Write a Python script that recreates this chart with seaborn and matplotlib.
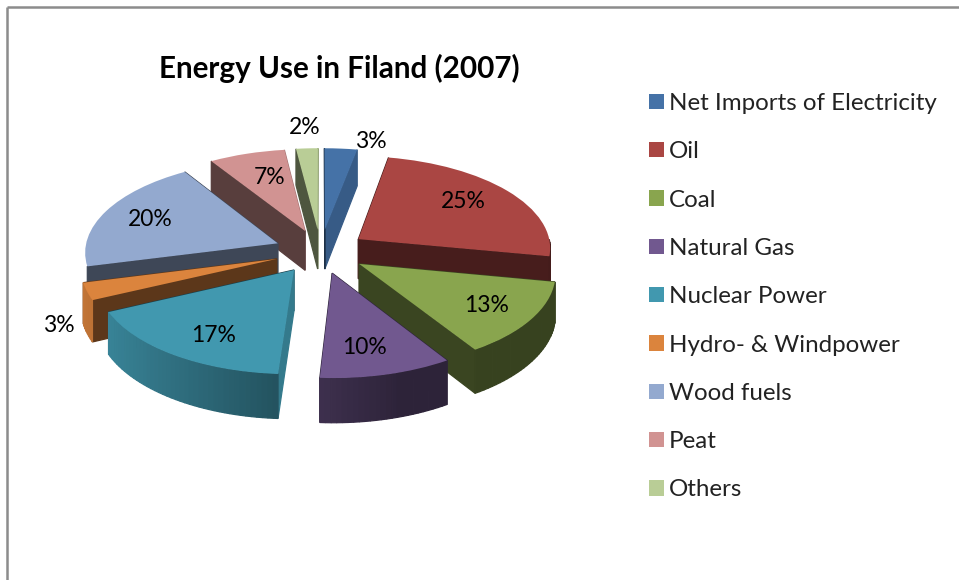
import numpy as np
import matplotlib
matplotlib.use("Agg")
import matplotlib.pyplot as plt
import matplotlib.transforms as mtransforms
import seaborn as sns

# --- DATA ---
CATEGORIES = ["Net Imports of Electricity", "Oil", "Coal", "Natural Gas", "Nuclear Power",
              "Hydro- & Windpower", "Wood fuels", "Peat", "Others"]
SHARES = [3, 25, 13, 10, 17, 3, 20, 7, 2]
COLOURS = ["#4572A7", "#AA4643", "#89A54E", "#71588F", "#4198AF",
           "#DB843D", "#93A9CF", "#D19392", "#B9CD96"]

# label centres in figure pixels (Excel "best fit" placement)
LABEL_POS = [(371, 141), (463, 202), (487, 306), (364, 347), (214, 335),
             (59, 325), (150, 219), (270, 177), (305, 128)]

# --- PROJECTION OF THE PIE PLANE ONTO THE PAGE ---
CX, CY = 320.5, 251.4
RX, RY = 193, 92
PERSPECTIVE = 0.085
THICKNESS = 40
EXPLODE = 0.24


def project(x, y, z=0.0):
    s = 1 / (1 + PERSPECTIVE * y)
    return CX + RX * x * s, CY - (RY * y - THICKNESS * z) * s


class PiePlane(mtransforms.Transform):
    input_dims = 2
    output_dims = 2

    def transform_non_affine(self, values):
        px, py = project(values[:, 0], values[:, 1])
        return np.column_stack([px, py])


def fill_side(ax, x, y, colour, zorder):
    # side wall hanging below a line on the top face
    px, py = project(x, y)
    qx, qy = project(x, y, 1.0)
    ax.fill(np.r_[px, qx[::-1]], np.r_[py, qy[::-1]], color=colour, lw=0.9, zorder=zorder)


def shaded(colour, factor):
    return tuple(c * factor for c in matplotlib.colors.to_rgb(colour))


sns.set_theme(style="white")
plt.rcParams["font.family"] = ["Lato", "DejaVu Sans"]
palette = sns.color_palette(COLOURS)

fig = plt.figure(figsize=(9.59, 5.8), dpi=100)
ax = fig.add_axes([0, 0, 1, 1])

wedges, _, pct_texts = ax.pie(SHARES, labels=CATEGORIES, labeldistance=None, colors=palette,
                              explode=[EXPLODE] * len(SHARES), startangle=90, counterclock=False,
                              autopct="%.0f%%", wedgeprops={"linewidth": 0})

plane = PiePlane() + ax.transData
order = np.argsort([-w.center[1] for w in wedges])

for rank, i in enumerate(order):
    wedge = wedges[i]
    wedge.set_transform(plane)
    wedge.set_zorder(1)
    cx, cy = wedge.center
    z = 0.1 + rank * 0.05

    # cut faces along the two radii
    for theta, normal in ((wedge.theta1, wedge.theta1 - 90), (wedge.theta2, wedge.theta2 + 90)):
        t = np.radians(theta)
        nx, ny = np.cos(np.radians(normal)), np.sin(np.radians(normal))
        factor = 0.8 if abs(ny) < 0.4 and nx > 0 else 0.42
        fill_side(ax, np.array([cx, cx + np.cos(t)]), np.array([cy, cy + np.sin(t)]),
                  shaded(palette[i], factor), z)

    # rim, split up so the shade can run along it; the back half can't be seen
    steps = np.radians(np.arange(wedge.theta1, wedge.theta2 + 1.5, 1.5).clip(max=wedge.theta2))
    for a, b in zip(steps[:-1], steps[1:]):
        mid = (a + b) / 2
        # the far left end is side-on in the reference, no rim shows there either
        if np.sin(mid) > 0 or (np.cos(mid) < 0 and np.sin(mid) > -0.25):
            continue
        factor = np.clip(0.52 - 0.38 * np.cos(mid), 0.4, 1.0)
        fill_side(ax, cx + np.cos([a, b]), cy + np.sin([a, b]),
                  shaded(palette[i], factor), z + 0.01)

for text, pos in zip(pct_texts, LABEL_POS):
    text.set_position(pos)
    text.set_fontsize(16.5)
    text.set_color("black")
    text.set_ha("center")
    text.set_va("center")
    text.set_zorder(3)

ax.text(339, 68, "Energy Use in Filand (2007)", fontsize=21.3, fontweight="bold",
        color="black", ha="center", va="center")

ax.legend(loc="upper left", bbox_to_anchor=(649, 93), bbox_transform=ax.transData,
          frameon=False, fontsize=17.4, labelspacing=1.13, handlelength=0.6, handleheight=0.6,
          handletextpad=0.22, borderpad=0, borderaxespad=0, labelcolor="#222222")

# the screenshot only shows the top and left edge of the chart frame
ax.plot([7, 959], [7, 7], color="#8c8c8c", lw=1.8, solid_capstyle="butt")
ax.plot([7, 7], [7, 580], color="#8c8c8c", lw=1.8, solid_capstyle="butt")

ax.set_aspect("auto")
ax.set_xlim(0, 959)
ax.set_ylim(580, 0)
ax.axis("off")

plt.savefig("out.png", dpi=100)
plt.close()
